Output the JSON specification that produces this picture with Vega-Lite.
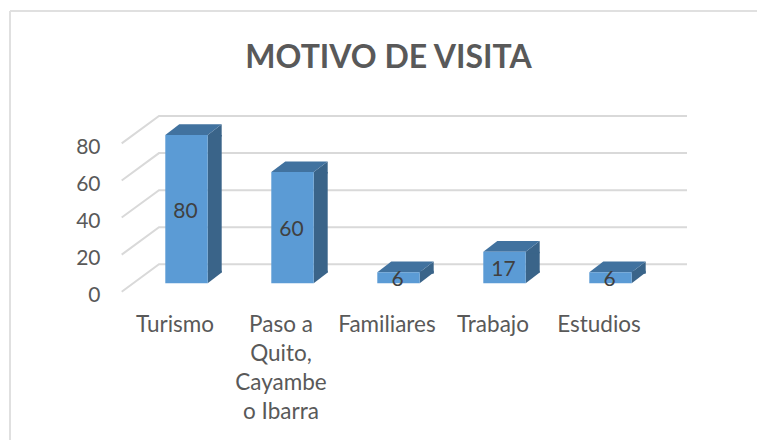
{
"$schema":"https://vega.github.io/schema/vega-lite/v6.json",
"width":747,"height":429,"autosize":"none",
"padding":{"left":10,"top":11,"right":0,"bottom":0},
"background":"white",
"config":{"view":{"stroke":null},"font":"Lato"},
"title":{"text":"MOTIVO DE VISITA","fontSize":32,"fontWeight":"bold","font":"Lato","color":"#595959","anchor":"middle","offset":-65,"dx":5},
"data":{"values":[
{"motivo":"Turismo","visitas":80},
{"motivo":"Paso a|Quito,|Cayambe|o Ibarra","visitas":60},
{"motivo":"Familiares","visitas":6},
{"motivo":"Trabajo","visitas":17},
{"motivo":"Estudios","visitas":6}]},
"encoding":{
"x":{"field":"motivo","type":"nominal","sort":null,"title":null,
"scale":{"range":[123.5,653.5],"paddingInner":0.6,"paddingOuter":0.3},
"axis":{"domain":false,"ticks":false,"grid":false,"offset":-127,"labelPadding":0,"labelAngle":0,"labelOffset":-11.5,"labelFontSize":22.5,"labelFont":"Lato","labelColor":"#595959","labelBaseline":"top","labelLineHeight":29.3,"labelExpr":"split(datum.label,'|')","labelLimit":300}},
"y":{"field":"visitas","type":"quantitative","title":null,
"scale":{"domain":[0,80],"range":[272.3,124],"nice":false,"zero":true},
"axis":{"values":[0,20,40,60,80],"domain":false,"ticks":false,"grid":false,"offset":-95,"labelPadding":5,"labelOffset":12,"labelFontSize":21,"labelFont":"Lato","labelColor":"#595959"}}
},
"layer":[
{"mark":{"type":"rule","color":"#e0e0e0","strokeWidth":2},"encoding":{"x":{"value":0},"y":{"value":0},"y2":{"value":429}}},
{"mark":{"type":"rule","color":"#e0e0e0","strokeWidth":2},"encoding":{"y":{"value":0},"x":{"value":0},"x2":{"value":747}}},
{"data":{"values":[{"marca":0},{"marca":20},{"marca":40},{"marca":60},{"marca":80}]},
"mark":{"type":"point","shape":"M-64.8 8.4 L-27.5 -19 L500.5 -19","filled":false,"fill":null,"size":4,"stroke":"#d9d9d9","strokeWidth":2,"opacity":1},
"encoding":{"x":{"datum":"Turismo"},"y":{"field":"marca","type":"quantitative"}}},
{"mark":{"type":"bar","width":14,"xOffset":28.2,"color":"#3a6489"},
"encoding":{"y2":{"datum":5.77}}},
{"mark":{"type":"point","shape":"M21.2 0 L35.2 -10.7 L35.2 1.5 L21.2 1.5 Z","filled":true,"size":4,"color":"#3a6489","opacity":1}},
{"mark":{"type":"point","shape":"M21.2 0 L35.2 -10.7 L35.2 -12.5 L21.2 -12.5 Z","filled":true,"size":4,"color":"#3a6489","opacity":1},
"encoding":{"y":{"datum":0}}},
{"mark":{"type":"point","shape":"M-21.2 0 L-7.2 -10.7 L35.2 -10.7 L21.2 0 Z","filled":true,"size":4,"color":"#41729f","opacity":1}},
{"mark":{"type":"bar","width":42.4,"color":"#5b9bd5"}},
{"transform":[{"calculate":"datum.visitas/2","as":"centro"}],
"mark":{"type":"text","fontSize":21,"font":"Lato","color":"#404040","dy":2.5,"dx":-1},
"encoding":{"y":{"field":"centro","type":"quantitative"},"text":{"field":"visitas","type":"quantitative"}}}
]}
